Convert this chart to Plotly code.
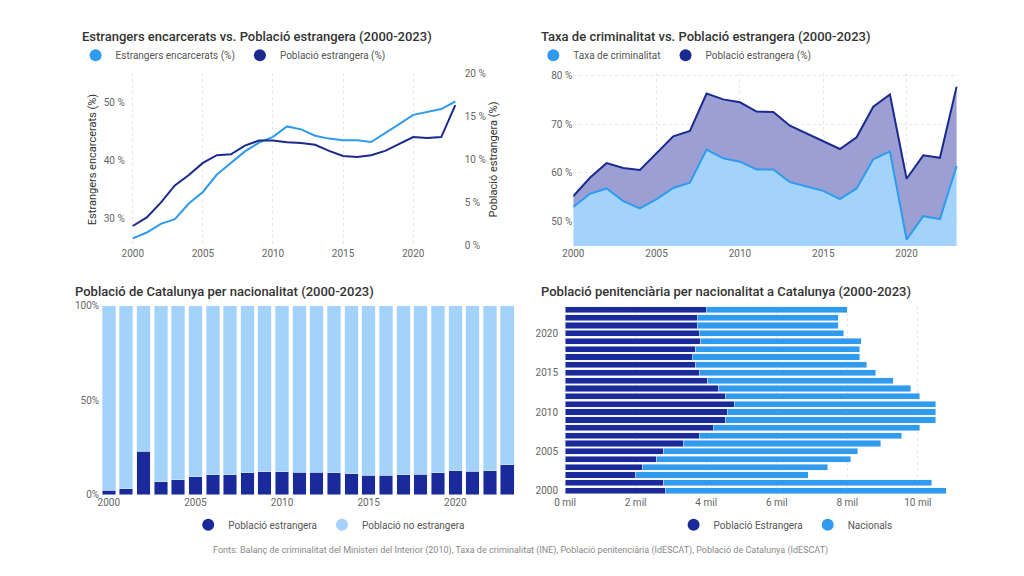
import plotly.graph_objects as go

years = list(range(2000, 2024))
presos_estrangers_pct = [26.5, 27.5, 29, 29.8, 32.5, 34.5, 37.5, 39.5, 41.5, 43, 44, 45.8, 45.3, 44.2, 43.7, 43.4,
                         43.4, 43.1, 44.6, 46.2, 47.8, 48.3, 48.8, 50.1]
poblacio_estrangera_pct = [2.3, 3.3, 5, 7, 8.2, 9.6, 10.5, 10.6, 11.6, 12.2, 12.2, 12, 11.9, 11.7, 11, 10.4,
                           10.3, 10.5, 11, 11.8, 12.6, 12.5, 12.6, 16.3]
taxa_criminalitat = [53, 55.7, 56.8, 54.2, 52.7, 54.6, 56.9, 58, 64.8, 63, 62.3, 60.7, 60.7, 58.1, 57.2, 56.3,
                     54.6, 56.8, 62.8, 64.4, 46.3, 51.1, 50.5, 61.4]
taxa_poblacio_estrangera = [55.2, 59, 62, 61, 60.6, 64, 67.5, 68.6, 76.3, 75.1, 74.5, 72.6, 72.5, 69.7, 68.1, 66.5,
                            64.9, 67.3, 73.6, 76.1, 58.8, 63.6, 63.1, 77.7]
cat_estrangera = [2.3, 3.2, 22.9, 6.9, 8, 9.6, 10.5, 10.5, 11.5, 12.2, 12.2, 11.9, 11.9, 11.5, 11, 10.3,
                  10.3, 10.5, 10.8, 11.5, 12.6, 12.4, 12.6, 15.8]
cat_no_estrangera = [100 - v for v in cat_estrangera]
pen_estrangers = [2850, 2800, 2000, 2200, 2600, 2800, 3350, 3800, 4200, 4550, 4600, 4800, 4550, 4350, 4050, 3800,
                  3700, 3600, 3700, 3850, 3800, 3750, 3750, 4000]
pen_total = [10800, 10400, 6900, 7450, 8100, 8300, 8950, 9550, 10050, 10500, 10500, 10500, 10050, 9800, 9300, 8800,
             8550, 8350, 8350, 8400, 7900, 7750, 7750, 8000]
pen_nacionals = [t - f for t, f in zip(pen_total, pen_estrangers)]
year_ticks = [2000, 2005, 2010, 2015, 2020]

LIGHT = "#2E9BEF"
DARK = "#1A2A8F"
PALE = "#A3D2FB"
FONT = "Roboto"
GRID = dict(showgrid=True, gridcolor="#e6e6e6", griddash="dot")
TICK = dict(family=FONT, size=10, color="#666")

fig = go.Figure()

def legend_dot(name, color, legend):
    fig.add_trace(go.Scatter(x=[None], y=[None], mode="markers", name=name,
                             marker=dict(color=color, size=9, symbol="circle"), legend=legend,
                             xaxis="x", yaxis="y"))

# Panel 1
fig.add_trace(go.Scatter(x=years, y=presos_estrangers_pct, mode="lines", showlegend=False,
                         line=dict(color=LIGHT, width=2), xaxis="x", yaxis="y"))
fig.add_trace(go.Scatter(x=years, y=poblacio_estrangera_pct, mode="lines", showlegend=False,
                         line=dict(color=DARK, width=2), xaxis="x", yaxis="y5"))
# Panel 2
fig.add_trace(go.Scatter(x=years, y=taxa_criminalitat, mode="lines", showlegend=False,
                         line=dict(color=LIGHT, width=2), fill="tozeroy", fillcolor=PALE,
                         xaxis="x2", yaxis="y2"))
fig.add_trace(go.Scatter(x=years, y=taxa_poblacio_estrangera, mode="lines", showlegend=False,
                         line=dict(color=DARK, width=2), fill="tonexty", fillcolor="#9B9FD4",
                         xaxis="x2", yaxis="y2"))
# Panel 3
fig.add_trace(go.Bar(x=years, y=cat_estrangera, marker_color="#1A2A9A", showlegend=False,
                     xaxis="x3", yaxis="y3"))
fig.add_trace(go.Bar(x=years, y=cat_no_estrangera, marker_color=PALE, showlegend=False,
                     xaxis="x3", yaxis="y3"))
# Panel 4
fig.add_trace(go.Bar(y=years, x=pen_estrangers, orientation="h", marker_color="#1A2A9A", showlegend=False,
                     xaxis="x4", yaxis="y4"))
fig.add_trace(go.Bar(y=years, x=pen_nacionals, orientation="h", marker_color=LIGHT, showlegend=False,
                     xaxis="x4", yaxis="y4"))

legend_dot("Estrangers encarcerats (%)", LIGHT, "legend")
legend_dot("Població estrangera (%)", DARK, "legend")
legend_dot("Taxa de criminalitat", LIGHT, "legend2")
legend_dot("Població estrangera (%)", DARK, "legend2")
legend_dot("Població estrangera", "#1A2A9A", "legend3")
legend_dot("Població no estrangera", PALE, "legend3")
legend_dot("Població Estrangera", "#1A2A9A", "legend4")
legend_dot("Nacionals", LIGHT, "legend4")

leg = dict(orientation="h", font=dict(family=FONT, size=10, color="#555"), bgcolor="rgba(0,0,0,0)",
           itemwidth=30, tracegroupgap=0, traceorder="normal", itemsizing="constant")

fig.update_layout(
    width=1024, height=576, paper_bgcolor="white", plot_bgcolor="white",
    margin=dict(l=0, r=0, t=0, b=0, autoexpand=False), barmode="stack", bargap=0.22,
    font=dict(family=FONT, color="#444"),
    xaxis=dict(domain=[0.115, 0.445], anchor="y", range=[1999.5, 2023.6], tickvals=year_ticks,
               tickfont=TICK, **GRID, zeroline=False),
    yaxis=dict(domain=[0.587, 0.887], range=[25.2, 55], tickvals=[30, 40, 50],
               ticktext=["30 %", "40 %", "50 %"], tickfont=TICK, showgrid=False, zeroline=False,
               title=dict(text="Estrangers encarcerats (%)", font=dict(family=FONT, size=11, color="#333"), standoff=4)),
    yaxis5=dict(overlaying="y", side="right", anchor="x", range=[0, 20], tickvals=[0, 5, 10, 15, 20],
                ticktext=["0 %", "5 %", "10 %", "15 %", "20 %"], tickfont=TICK, showgrid=False, zeroline=False,
                title=dict(text="Població estrangera (%)", font=dict(family=FONT, size=11, color="#333"), standoff=4)),
    xaxis2=dict(domain=[0.552, 0.928], anchor="y2", range=[2000, 2023.1], tickvals=year_ticks,
                tickfont=TICK, **GRID, zeroline=False),
    yaxis2=dict(domain=[0.587, 0.887], anchor="x2", range=[45, 80.5], tickvals=[50, 60, 70, 80],
                ticktext=["50 %", "60 %", "70 %", "80 %"], tickfont=TICK, **GRID, zeroline=False),
    xaxis3=dict(domain=[0.09, 0.496], anchor="y3", range=[1999.5, 2023.5], tickvals=year_ticks,
                tickfont=TICK, showgrid=False, zeroline=False),
    yaxis3=dict(domain=[0.155, 0.483], anchor="x3", range=[0, 100], tickvals=[0, 50, 100],
                ticktext=["0%", "50%", "100%"], tickfont=TICK, showgrid=False, zeroline=False),
    xaxis4=dict(domain=[0.544, 0.923], anchor="y4", range=[0, 11000], tickvals=[0, 2000, 4000, 6000, 8000, 10000],
                ticktext=["0 mil", "2 mil", "4 mil", "6 mil", "8 mil", "10 mil"], tickfont=TICK, **GRID, zeroline=False),
    yaxis4=dict(domain=[0.155, 0.483], anchor="x4", range=[1999.5, 2023.5], tickvals=year_ticks,
                tickfont=TICK, showgrid=False, zeroline=False, ticklabelstandoff=6),
    legend=dict(leg, x=0.066, y=0.918, xanchor="left", yanchor="middle"),
    legend2=dict(leg, x=0.513, y=0.918, xanchor="left", yanchor="middle"),
    legend3=dict(leg, x=0.176, y=0.103, xanchor="left", yanchor="middle"),
    legend4=dict(leg, x=0.650, y=0.103, xanchor="left", yanchor="middle"),
    showlegend=True,
)

titles = [
    ("Estrangers encarcerats vs. Població estrangera (2000-2023)", 0.070, 0.951),
    ("Taxa de criminalitat vs. Població estrangera (2000-2023)", 0.519, 0.951),
    ("Població de Catalunya per nacionalitat (2000-2023)", 0.063, 0.508),
    ("Població penitenciària per nacionalitat a Catalunya (2000-2023)", 0.519, 0.508),
]
for text, x, y in titles:
    fig.add_annotation(text=text, x=x, y=y, xref="paper", yref="paper", xanchor="left", yanchor="middle",
                       showarrow=False, font=dict(family=FONT, size=13, color="#333", weight=500))
fig.add_annotation(text="Fonts: Balanç de criminalitat del Ministeri del Interior (2010), Taxa de criminalitat (INE), "
                        "Població penitenciària (IdESCAT), Població de Catalunya (IdESCAT)",
                   x=0.5, y=0.045, xref="paper", yref="paper", showarrow=False,
                   font=dict(family=FONT, size=9, color="#888"))

fig.write_html("out.html")
